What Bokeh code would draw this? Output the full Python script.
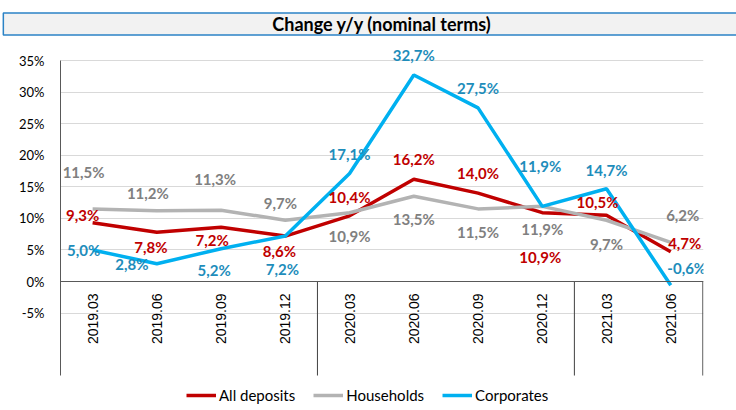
import math
from bokeh.plotting import figure
from bokeh.models import Range1d, FixedTicker, Span, ColumnDataSource, Legend, LegendItem
from bokeh.core.properties import value
from bokeh.embed import file_html
from bokeh.resources import INLINE

# ---------------- data ----------------
title_text = "Change y/y (nominal terms)"
categories = ["2019.03", "2019.06", "2019.09", "2019.12", "2020.03",
              "2020.06", "2020.09", "2020.12", "2021.03", "2021.06"]
all_deposits = [9.3, 7.8, 8.6, 7.2, 10.4, 16.2, 14.0, 10.9, 10.5, 4.7]
households = [11.5, 11.2, 11.3, 9.7, 10.9, 13.5, 11.5, 11.9, 9.7, 6.2]
corporates = [5.0, 2.8, 5.2, 7.2, 17.1, 32.7, 27.5, 11.9, 14.7, -0.6]
# data labels as printed on the original chart
all_deposits_labels = ["9,3%", "7,8%", "7,2%", "8,6%", "10,4%", "16,2%", "14,0%", "10,9%", "10,5%", "4,7%"]
households_labels = ["11,5%", "11,2%", "11,3%", "9,7%", "10,9%", "13,5%", "11,5%", "11,9%", "9,7%", "6,2%"]
corporates_labels = ["5,0%", "2,8%", "5,2%", "7,2%", "17,1%", "32,7%", "27,5%", "11,9%", "14,7%", "-0,6%"]
y_ticks = [-5, 0, 5, 10, 15, 20, 25, 30, 35]
y_tick_labels = ["-5%", "0%", "5%", "10%", "15%", "20%", "25%", "30%", "35%"]

# ---------------- styling / layout ----------------
RED = "#c00000"
GRAY = "#b3b3b3"
BLUE = "#00b0f0"
RED_T = "#c00000"
GRAY_T = "#808080"
BLUE_T = "#1e8dbb"

# label pixel offsets (dx, dy) relative to each point
red_off = [(-10, -8), (-6, 15), (-9, 13), (-6, 15), (0, -19), (0, -20), (0, -20), (-2, 44), (-9, -13), (14, -9)]
gray_off = [(-9, -37), (-9, -18), (-6, -31), (-5, -17), (0, 23), (0, 23), (0, 23), (0, 23), (0, 24), (12, -27)]
blue_off = [(-9, 0), (-25, 0), (-7, 21), (-3, 33), (0, -20), (0, -20), (0, -20), (-2, -40), (0, -19), (16, -17)]

W = 736
H = 410
y_lo = -20.43       # frame bottom (canvas bottom)
y_axis_lo = -14.89  # bottom of the category band
y_hi = 38.17        # frame top
idx = list(range(len(categories)))

p = figure(width=W, height=H, output_backend="svg", toolbar_location=None,
           x_range=Range1d(-0.5, 9.51), y_range=Range1d(y_lo, y_hi),
           x_axis_location=None,
           min_border_left=60, min_border_right=33, min_border_top=40, min_border_bottom=0,
           outline_line_color=None)

# title box
p.title.text = title_text
p.title.align = "center"
p.title.offset = -6
p.title.text_font = "Lato"
p.title.text_font_style = "bold"
p.title.text_font_size = "18px"
p.title.text_color = "#000000"
p.title.background_fill_color = "#f2f2f2"
p.title.border_line_color = "#2b83c6"
p.title.border_line_width = 1.5
p.title.padding = (269, 0)
p.title.standoff = 11

p.yaxis.ticker = FixedTicker(ticks=y_ticks)
p.yaxis.major_label_overrides = {tk: lb for tk, lb in zip(y_ticks, y_tick_labels)}
p.yaxis.bounds = (y_axis_lo, 35)
p.yaxis.axis_line_color = "#595959"
p.yaxis.axis_line_width = 1
p.yaxis.major_tick_line_color = None
p.yaxis.minor_tick_line_color = None
p.yaxis.major_label_standoff = 10
p.yaxis.major_label_text_font = "Lato"
p.yaxis.major_label_text_font_size = "13px"
p.yaxis.major_label_text_color = "#000000"

p.xgrid.visible = False
p.ygrid.ticker = FixedTicker(ticks=y_ticks)
p.ygrid.grid_line_color = "#d9d9d9"
p.ygrid.grid_line_width = 1

# zero axis line
p.add_layout(Span(location=0, dimension="width", line_color="#595959", line_width=1))

# year separators (where year changes) and right closing line
years = [c.split(".")[0] for c in categories]
sep_x = [i - 0.5 for i in range(1, len(categories)) if years[i] != years[i - 1]]
sep_x.append(len(categories) - 0.5)
p.segment(x0=sep_x, y0=[0] * len(sep_x), x1=sep_x, y1=[y_axis_lo] * len(sep_x),
          line_color="#404040", line_width=1)

# category labels (rotated)
p.text(x=idx, y=[0] * len(idx), text=categories, angle=math.pi / 2,
       text_align="right", text_baseline="middle", y_offset=12,
       text_font=value("Liberation Sans"), text_font_size="14px", text_color="#000000")

# lines
r_all = p.line(idx, all_deposits, line_color=RED, line_width=3.5)
r_hh = p.line(idx, households, line_color=GRAY, line_width=3.5)
r_co = p.line(idx, corporates, line_color=BLUE, line_width=3.5)


def add_labels(vals, labels, offs, color):
    src = ColumnDataSource(dict(x=idx, y=vals, t=labels,
                                dx=[o[0] for o in offs], dy=[o[1] for o in offs]))
    p.text(x="x", y="y", text="t", x_offset="dx", y_offset="dy", source=src,
           text_align="center", text_baseline="middle",
           text_font=value("Lato"), text_font_style="bold", text_font_size="15px",
           text_color=color)


add_labels(households, households_labels, gray_off, GRAY_T)
add_labels(all_deposits, all_deposits_labels, red_off, RED_T)
add_labels(corporates, corporates_labels, blue_off, BLUE_T)

lg = Legend(items=[LegendItem(label="All deposits", renderers=[r_all]),
                   LegendItem(label="Households", renderers=[r_hh]),
                   LegendItem(label="Corporates", renderers=[r_co])])
lg.orientation = "horizontal"
lg.location = (126, 6)
lg.background_fill_alpha = 0
lg.border_line_color = None
lg.padding = 0
lg.margin = 0
lg.spacing = 18
lg.label_standoff = 3
lg.glyph_width = 30
lg.glyph_height = 16
lg.label_height = 16
lg.label_text_font = "Lato"
lg.label_text_font_size = "15px"
lg.label_text_color = "#000000"
lg.label_text_baseline = "middle"
p.add_layout(lg)

open("out.html", "w").write(file_html(p, INLINE))
